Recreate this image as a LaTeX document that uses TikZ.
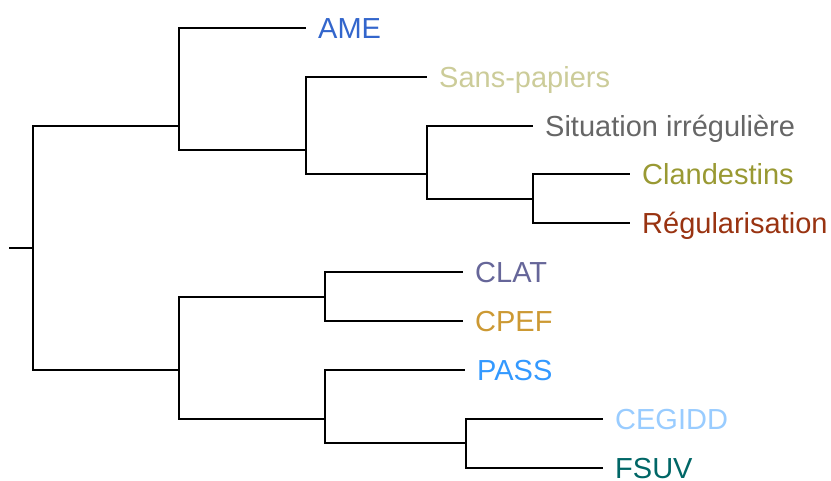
\documentclass[tikz,border=0pt]{standalone}
\usepackage{fontspec}
\setmainfont{Liberation Sans}
\definecolor{cAME}{HTML}{3366CC}
\definecolor{cSans}{HTML}{CCCC99}
\definecolor{cSit}{HTML}{666666}
\definecolor{cClan}{HTML}{999933}
\definecolor{cReg}{HTML}{993311}
\definecolor{cCLAT}{HTML}{666699}
\definecolor{cCPEF}{HTML}{CC9933}
\definecolor{cPASS}{HTML}{3399FF}
\definecolor{cCEG}{HTML}{99CCFF}
\definecolor{cFSUV}{HTML}{006666}
\begin{document}
\begin{tikzpicture}[x=1pt,y=-1pt,
  branch/.style={draw=black,line width=2pt},
  leaflabel/.style={anchor=base west,inner sep=0pt,xshift=12pt,yshift=-10.4pt,
    font=\fontsize{29}{34}\selectfont}]
\useasboundingbox (0,0) rectangle (831,480);
% tips
\coordinate (tAME) at (306,28);
\coordinate (tSans) at (427,77);
\coordinate (tSit) at (533,126);
\coordinate (tClan) at (630,174);
\coordinate (tReg) at (630,223);
\coordinate (tCLAT) at (463,272);
\coordinate (tCPEF) at (463,321);
\coordinate (tPASS) at (465,370);
\coordinate (tCEG) at (603,419);
\coordinate (tFSUV) at (603,468);
% internal nodes (y = mean of descendant tips)
\coordinate (nCR) at (533,199);
\coordinate (nSit) at (427,174);
\coordinate (nSans) at (306,150);
\coordinate (nTop) at (179,126);
\coordinate (nCF) at (466,443);
\coordinate (nPASS) at (325,419);
\coordinate (nCL) at (325,297);
\coordinate (nBot) at (179,370);
\coordinate (root) at (33,248);
\coordinate (stub) at (9,248);
% branches
\draw[branch] (stub) -- (root);
\draw[branch] (root) |- (nTop);
\draw[branch] (root) |- (nBot);
\draw[branch] (nTop) |- (tAME);
\draw[branch] (nTop) |- (nSans);
\draw[branch] (nSans) |- (tSans);
\draw[branch] (nSans) |- (nSit);
\draw[branch] (nSit) |- (tSit);
\draw[branch] (nSit) |- (nCR);
\draw[branch] (nCR) |- (tClan);
\draw[branch] (nCR) |- (tReg);
\draw[branch] (nBot) |- (nCL);
\draw[branch] (nBot) |- (nPASS);
\draw[branch] (nCL) |- (tCLAT);
\draw[branch] (nCL) |- (tCPEF);
\draw[branch] (nPASS) |- (tPASS);
\draw[branch] (nPASS) |- (nCF);
\draw[branch] (nCF) |- (tCEG);
\draw[branch] (nCF) |- (tFSUV);
% labels
\node[leaflabel,text=cAME] (lAME) at (tAME) {AME};
\node[leaflabel,text=cSans] (lSans) at (tSans) {Sans-papiers};
\node[leaflabel,text=cSit] (lSit) at (tSit) {Situation irrégulière};
\node[leaflabel,text=cClan] (lClan) at (tClan) {Clandestins};
\node[leaflabel,text=cReg] (lReg) at (tReg) {Régularisation};
\node[leaflabel,text=cCLAT] (lCLAT) at (tCLAT) {CLAT};
\node[leaflabel,text=cCPEF] (lCPEF) at (tCPEF) {CPEF};
\node[leaflabel,text=cPASS] (lPASS) at (tPASS) {PASS};
\node[leaflabel,text=cCEG] (lCEG) at (tCEG) {CEGIDD};
\node[leaflabel,text=cFSUV] (lFSUV) at (tFSUV) {FSUV};
\end{tikzpicture}
\end{document}
